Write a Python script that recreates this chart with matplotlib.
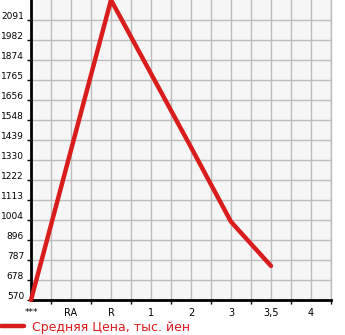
import matplotlib
matplotlib.use("Agg")
import matplotlib.pyplot as plt
import matplotlib.transforms as mtransforms

categories = ['***', 'RA', 'R', '1', '2', '3', '3,5', '4']
prices = [570, 1385, 2200, 1800, 1400, 995, 755, None]
yticks = [570, 678, 787, 896, 1004, 1113, 1222, 1330, 1439, 1548,
          1656, 1765, 1874, 1982, 2091]

red = '#d91c1c'
plt.rcParams['font.family'] = ['DejaVu Sans']

fig = plt.figure(figsize=(3.45, 3.35), dpi=100)
ax = fig.add_axes([31/345, 35/335, 300/345, 300/335])
ax.set_facecolor('#f6f6f6')

xs = [i for i, v in enumerate(prices) if v is not None]
ys = [v for v in prices if v is not None]
ax.plot(xs, ys, color=red, lw=3.2, solid_capstyle='round',
        solid_joinstyle='round', zorder=3, clip_on=False,
        label='Средняя Цена, тыс. йен')

ax.set_xlim(0, 7.5)
ax.set_ylim(570, 2091 + (2091 - 1982))

# labels on categories, tick marks between them, grid on both
ax.set_xticks(range(len(categories)))
ax.set_xticklabels(categories)
ax.set_xticks([i + 0.5 for i in range(len(categories))], minor=True)
ax.tick_params(axis='x', which='major', length=0, pad=6, labelsize=7)
ax.tick_params(axis='x', which='minor', length=3, width=1, color='black')
ax.set_yticks(yticks)
ax.set_yticklabels([str(v) for v in yticks])
ax.tick_params(axis='y', length=3, width=1, pad=2, labelsize=6.5)
ax.grid(True, which='both', color='#bdbdbd', lw=1)
ax.set_axisbelow(True)

offset = mtransforms.ScaledTranslation(0, 1/100, fig.dpi_scale_trans)
for lbl in ax.get_yticklabels():
    lbl.set_verticalalignment('baseline')
    lbl.set_transform(lbl.get_transform() + offset)
for lbl in ax.get_xticklabels():
    if lbl.get_text() == '***':
        lbl.set_fontsize(6.5)

ax.spines['left'].set_linewidth(2)
ax.spines['bottom'].set_linewidth(2)
ax.spines['top'].set_visible(False)
ax.spines['right'].set_color('#bdbdbd')
ax.spines['right'].set_linewidth(1)

fig.legend(loc='lower left', bbox_to_anchor=(0, 0), frameon=False,
           fontsize=9, handlelength=1.8, handletextpad=0.7, borderpad=0,
           borderaxespad=0.1, labelcolor=red)

fig.savefig('out.png', dpi=100)
